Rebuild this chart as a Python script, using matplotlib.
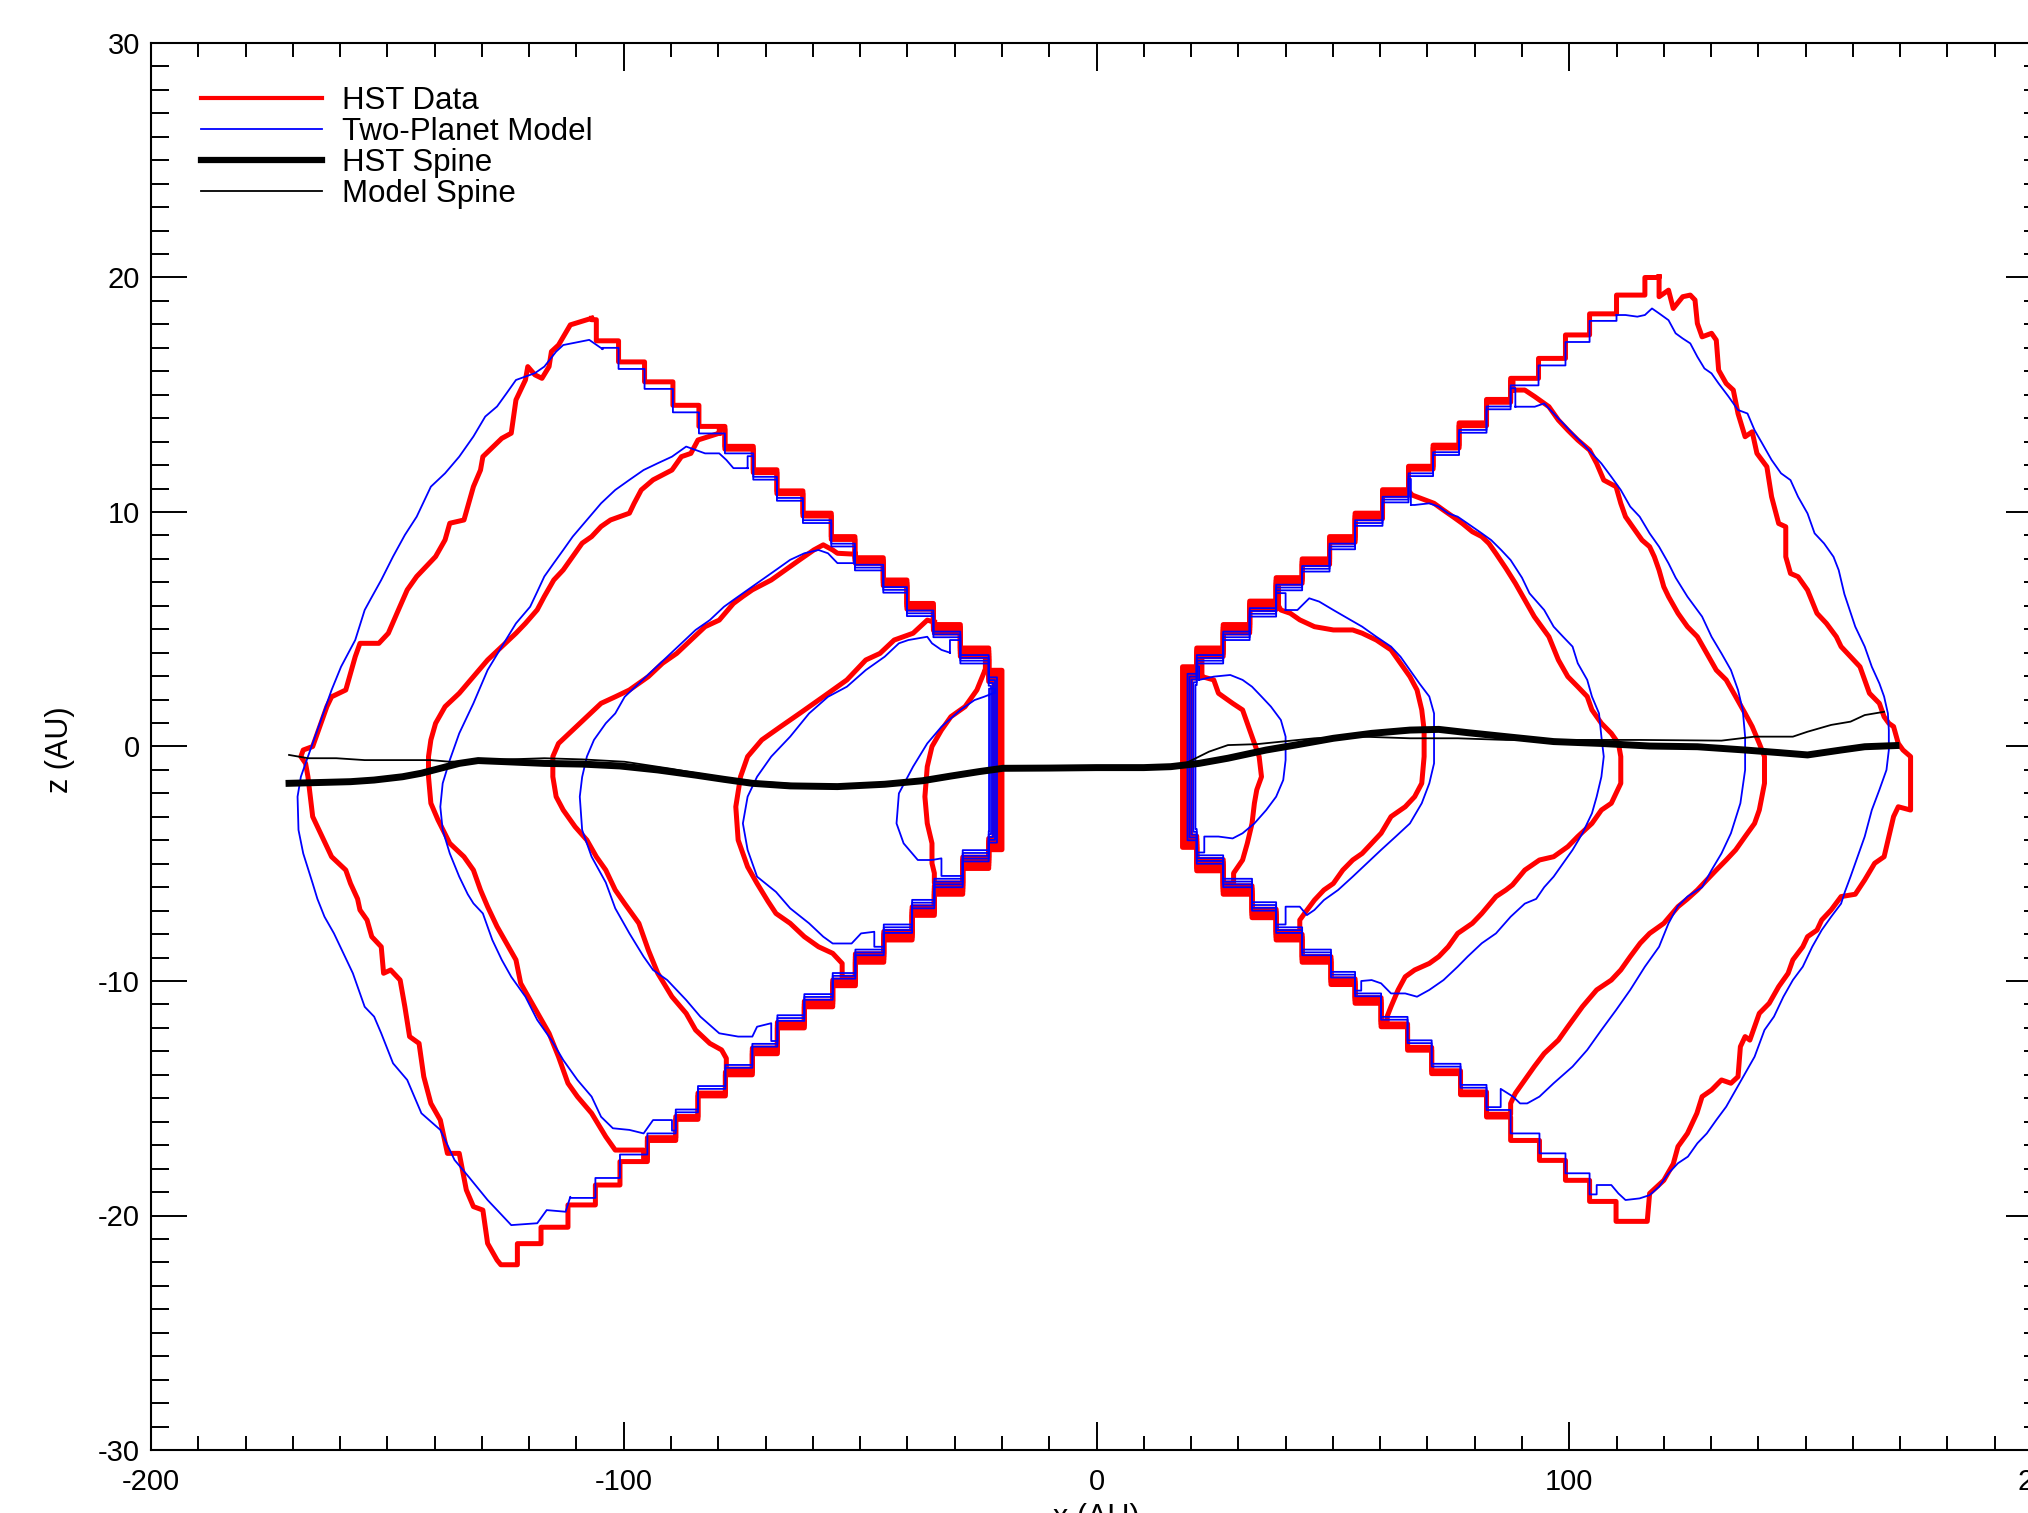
import numpy as np
import matplotlib
matplotlib.use("Agg")
import matplotlib.pyplot as plt
from matplotlib.lines import Line2D

plt.rcParams['font.family'] = ['Liberation Sans', 'DejaVu Sans']
plt.rcParams['axes.unicode_minus'] = False

# ---------------- data (AU) ----------------
# mask-boundary staircases: step start x and level z (level i spans x[i]..x[i+1])
UL_X = [-108.0, -105.8, -101.1, -95.6, -89.6, -84.1, -78.6, -72.6, -67.6, -62.1, -56.1,
        -51.1, -45.1, -40.1, -34.5, -28.8, -22.8, -20.0]
UL_Z = [18.2, 17.3, 16.4, 15.55, 14.55, 13.65, 12.8, 11.8, 10.9, 9.95, 8.95, 8.05, 7.1,
        6.1, 5.2, 4.2, 3.25]
LL_X = [-126.0, -122.5, -117.5, -111.8, -106.0, -100.8, -95.0, -89.0, -84.3, -78.5, -72.8,
        -67.5, -61.8, -55.8, -51.0, -45.0, -39.0, -34.3, -28.3, -22.8, -20.0]
LL_Z = [-22.1, -21.2, -20.5, -19.55, -18.7, -17.7, -16.8, -15.9, -14.9, -14.0, -13.1, -12.0,
        -11.1, -10.2, -9.2, -8.25, -7.2, -6.3, -5.2, -4.4]
UR_X = [18.2, 21.2, 26.8, 32.4, 38.0, 43.5, 49.3, 54.7, 60.5, 66.0, 71.2, 76.7, 82.5, 87.6,
        93.5, 99.2, 104.3, 110.0, 116.0, 119.0]
UR_Z = [3.4, 4.2, 5.2, 6.2, 7.2, 8.0, 8.95, 9.95, 10.95, 11.95, 12.85, 13.8, 14.8, 15.7,
        16.55, 17.55, 18.45, 19.25, 20.0]
LR_X = [18.2, 21.2, 26.8, 32.9, 38.0, 43.5, 49.6, 54.7, 60.2, 65.8, 70.9, 77.0, 82.5, 87.6,
        93.7, 99.2, 104.3, 109.9, 116.5]
LR_Z = [-4.3, -5.3, -6.3, -7.3, -8.25, -9.2, -10.15, -10.95, -11.95, -12.95, -13.95, -14.85,
        -15.8, -16.8, -17.65, -18.5, -19.4, -20.25]

# free (outer) parts of the contours, listed top -> bottom
HST_LEFT_1 = [(-106.8, 18.26), (-111.3, 17.98), (-113.8, 17.12), (-115.3, 16.84), (-115.8, 16.2),
    (-117.3, 15.7), (-118.8, 15.85), (-120.3, 16.2), (-120.8, 15.63), (-122.8, 14.78), (-123.3, 14.07),
    (-123.8, 13.36), (-125.8, 13.14), (-129.8, 12.36), (-130.3, 11.79), (-131.8, 11.08), (-132.8, 10.37),
    (-133.8, 9.66), (-136.8, 9.52), (-137.8, 8.81), (-139.8, 8.10), (-143.8, 7.25), (-145.8, 6.68),
    (-147.5, 5.9), (-149.8, 4.83), (-151.8, 4.40), (-155.8, 4.40), (-156.8, 3.83), (-157.8, 3.12),
    (-158.8, 2.41), (-161.8, 2.12), (-162.8, 1.70), (-163.8, 1.13), (-164.8, 0.56), (-165.8, 0.0),
    (-167.8, -0.15), (-168.3, -0.43), (-167.3, -0.72), (-166.8, -1.29), (-166.3, -2.14), (-165.8, -2.99),
    (-163.8, -3.84), (-161.8, -4.70), (-158.8, -5.27), (-157.8, -5.84), (-156.3, -6.5), (-155.8, -6.97),
    (-154.3, -7.40), (-153.3, -8.11), (-151.3, -8.54), (-150.8, -9.67), (-149.3, -9.53), (-147.3, -9.96),
    (-146.3, -11.10), (-145.3, -12.37), (-143.3, -12.66), (-142.3, -14.08), (-140.8, -15.22),
    (-138.8, -15.93), (-137.3, -17.35), (-134.8, -17.35), (-133.3, -18.91), (-131.8, -19.62),
    (-129.8, -19.77), (-128.8, -21.19), (-126.8, -21.90), (-126.0, -22.1)]
MODEL_LEFT_1 = [(-104.5, 16.95), (-107.3, 17.34), (-110.8, 17.2), (-112.8, 17.12), (-114.3, 16.84),
    (-116.8, 16.2), (-118.8, 15.92), (-122.8, 15.63), (-124.8, 15.06), (-126.8, 14.5), (-129.3, 14.07),
    (-131.8, 13.22), (-134.8, 12.36), (-137.8, 11.65), (-140.8, 11.08), (-143.8, 9.8), (-146.3, 9.02),
    (-148.8, 8.1), (-151.3, 7.1), (-153.5, 6.3), (-154.8, 5.82), (-156.8, 4.54), (-159.8, 3.4),
    (-161.8, 2.41), (-163.8, 1.27), (-165.3, 0.42), (-166.8, -0.43), (-168.3, -1.29), (-169.0, -2.14),
    (-168.8, -3.56), (-167.8, -4.56), (-165.8, -5.84), (-164.8, -6.5), (-163.3, -7.26), (-161.3, -7.97),
    (-159.3, -8.82), (-157.3, -9.67), (-154.8, -11.1), (-152.8, -11.52), (-151.3, -12.23),
    (-148.8, -13.51), (-145.8, -14.22), (-142.8, -15.64), (-138.8, -16.35), (-135.8, -17.63),
    (-132.8, -18.35), (-128.8, -19.34), (-125.8, -19.98), (-123.8, -20.41), (-118.3, -20.33),
    (-116.3, -19.77), (-112.3, -19.84), (-111.3, -19.2)]
HST_LEFT_2 = [(-79.8, 13.36), (-84.3, 13.07), (-85.8, 12.5), (-87.8, 12.36), (-89.8, 11.79),
    (-93.8, 11.37), (-96.3, 10.94), (-97.8, 10.37), (-98.8, 9.95), (-102.8, 9.66), (-104.8, 9.38),
    (-106.8, 8.95), (-108.8, 8.67), (-110.8, 8.1), (-112.8, 7.53), (-114.8, 7.1), (-116.8, 6.4),
    (-118.3, 5.83), (-120.8, 5.25), (-122.8, 4.83), (-125.8, 4.26), (-128.8, 3.69), (-131.8, 2.98),
    (-134.8, 2.27), (-137.8, 1.7), (-139.8, 0.99), (-140.8, 0.28), (-141.3, -0.43), (-141.3, -1.29),
    (-140.8, -2.42), (-139.3, -3.13), (-136.8, -4.13), (-133.8, -4.7), (-131.8, -5.27), (-130.3, -6.12),
    (-128.8, -6.83), (-126.8, -7.68), (-124.8, -8.39), (-122.8, -9.1), (-121.8, -10.1), (-119.8, -10.81),
    (-117.8, -11.52), (-115.8, -12.23), (-113.8, -13.23), (-111.8, -14.36), (-109.8, -14.93),
    (-106.8, -15.64), (-103.8, -16.64), (-101.8, -17.21), (-95.8, -17.21)]
MODEL_LEFT_2 = [(-73.8, 11.87), (-76.8, 11.87), (-78.3, 12.22), (-79.8, 12.5), (-82.8, 12.5),
    (-86.8, 12.79), (-89.8, 12.36), (-92.8, 12.08), (-95.8, 11.79), (-98.8, 11.37), (-101.8, 10.94),
    (-104.8, 10.37), (-107.8, 9.66), (-110.8, 8.95), (-112.8, 8.38), (-114.8, 7.82), (-116.8, 7.25),
    (-118.3, 6.6), (-119.8, 5.96), (-122.8, 5.25), (-125.8, 4.26), (-128.8, 3.26), (-131.8, 1.84),
    (-134.8, 0.56), (-136.8, -0.58), (-138.3, -1.57), (-138.8, -2.57), (-138.3, -3.56), (-136.8, -4.56),
    (-134.8, -5.55), (-133.0, -6.3), (-131.8, -6.69), (-129.8, -7.12), (-127.8, -8.25), (-125.8, -9.1),
    (-123.8, -9.82), (-120.8, -10.67), (-118.3, -11.66), (-115.3, -12.52), (-112.8, -13.37),
    (-109.8, -14.22), (-106.8, -14.93), (-104.8, -15.79), (-102.3, -16.28), (-98.8, -16.35),
    (-95.8, -16.5), (-93.8, -15.93), (-89.8, -15.93)]
HST_LEFT_3 = [(-51.0, 8.2), (-54.8, 8.24), (-55.8, 8.38), (-57.8, 8.6), (-59.8, 8.38), (-62.8, 7.96),
    (-65.8, 7.53), (-68.8, 7.1), (-72.8, 6.68), (-74.8, 6.4), (-76.8, 6.1), (-79.8, 5.39), (-82.8, 5.11),
    (-85.8, 4.54), (-88.8, 3.97), (-91.8, 3.55), (-94.8, 2.98), (-98.8, 2.41), (-101.8, 2.12),
    (-104.8, 1.84), (-107.8, 1.27), (-110.8, 0.7), (-113.8, 0.13), (-115.0, -0.43), (-115.0, -1.29),
    (-114.3, -2.14), (-112.8, -2.71), (-110.3, -3.42), (-107.8, -3.99), (-105.8, -4.7), (-103.8, -5.27),
    (-101.8, -6.12), (-99.8, -6.7), (-96.8, -7.54), (-94.8, -8.68), (-92.8, -9.67), (-89.8, -10.67),
    (-86.8, -11.38), (-84.8, -12.09), (-81.8, -12.66), (-79.3, -12.94), (-78.3, -13.3)]
MODEL_LEFT_3 = [(-51.3, 7.82), (-54.8, 7.82), (-56.8, 8.24), (-58.8, 8.38), (-61.8, 8.24),
    (-64.8, 7.96), (-67.8, 7.53), (-72.8, 6.82), (-76.8, 6.25), (-78.8, 5.96), (-81.8, 5.39),
    (-84.8, 4.97), (-87.8, 4.4), (-90.8, 3.83), (-93.8, 3.26), (-96.8, 2.69), (-99.8, 2.12),
    (-101.8, 1.41), (-103.8, 0.99), (-106.3, 0.28), (-107.8, -0.43), (-108.8, -1.3), (-109.3, -2.14),
    (-108.8, -3.56), (-106.8, -4.7), (-103.8, -5.8), (-101.8, -6.9), (-98.8, -7.97), (-95.8, -8.96),
    (-93.8, -9.53), (-90.8, -9.96), (-86.8, -10.81), (-83.8, -11.52), (-79.8, -12.23), (-75.8, -12.37),
    (-72.8, -12.37), (-71.8, -11.95), (-68.8, -11.8)]
HST_LEFT_4 = [(-34.3, 5.3), (-35.8, 5.39), (-38.8, 4.83), (-42.8, 4.54), (-45.8, 3.97), (-48.8, 3.69),
    (-52.8, 2.84), (-57.8, 2.12), (-62.8, 1.41), (-66.8, 0.85), (-70.8, 0.28), (-73.8, -0.43),
    (-75.3, -1.29), (-76.3, -2.57), (-75.8, -3.99), (-73.8, -5.13), (-71.8, -5.84), (-69.5, -6.6),
    (-67.8, -7.12), (-64.8, -7.54), (-61.8, -8.11), (-58.8, -8.54), (-55.8, -8.82), (-53.8, -9.25)]
MODEL_LEFT_4 = [(-31.0, 4.0), (-32.8, 4.12), (-34.8, 4.4), (-35.8, 4.68), (-39.8, 4.54), (-41.8, 4.4),
    (-44.8, 3.83), (-48.8, 3.26), (-52.8, 2.55), (-56.8, 2.12), (-60.8, 1.41), (-64.8, 0.42),
    (-68.8, -0.43), (-71.8, -1.29), (-73.8, -2.14), (-74.8, -3.28), (-73.8, -4.41), (-71.8, -5.55),
    (-67.8, -6.2), (-64.8, -6.9), (-60.8, -7.54), (-57.8, -8.11), (-55.8, -8.4), (-51.8, -8.4),
    (-49.8, -7.97), (-47.0, -7.9)]
HST_LEFT_5 = [(-23.5, 3.3), (-25.3, 2.41), (-27.8, 1.7), (-30.8, 1.27), (-32.8, 0.7), (-34.8, 0.0),
    (-35.8, -0.86), (-36.3, -2.14), (-35.8, -3.28), (-34.8, -4.13), (-34.8, -4.98), (-34.3, -5.4)]
MODEL_LEFT_5 = [(-21.5, 2.3), (-23.8, 2.12), (-25.8, 1.98), (-28.8, 1.56), (-32.8, 0.84),
    (-35.8, 0.13), (-38.8, -0.86), (-41.8, -2.0), (-42.3, -3.28), (-40.8, -4.13), (-37.8, -4.84),
    (-34.8, -4.84), (-32.8, -4.77)]

HST_RIGHT_1 = [(119.0, 20.03), (119.0, 19.18), (121.0, 19.46), (122.0, 18.68), (124.0, 19.18),
    (125.6, 19.25), (126.6, 19.04), (127.1, 18.04), (128.1, 17.47), (130.1, 17.62), (131.1, 17.33),
    (131.6, 16.05), (133.2, 15.48), (134.7, 15.2), (135.7, 14.2), (137.2, 13.21), (138.7, 13.42),
    (139.7, 12.5), (141.8, 11.93), (142.8, 10.65), (144.3, 9.51), (145.8, 9.37), (145.8, 8.09),
    (146.8, 7.38), (148.4, 7.24), (150.4, 6.67), (152.4, 5.68), (154.4, 5.25), (156.5, 4.68),
    (157.5, 4.26), (159.5, 3.83), (161.5, 3.4), (162.5, 2.84), (163.5, 2.27), (165.6, 1.84),
    (166.6, 1.27), (167.6, 0.99), (168.6, 0.85), (169.6, 0.13), (170.6, -0.15), (172.2, -0.43),
    (172.2, -2.71), (169.6, -2.57), (168.6, -2.99), (167.6, -3.84), (166.6, -4.7), (164.6, -4.98),
    (162.5, -5.69), (160.5, -6.3), (157.5, -6.4), (155.4, -6.97), (153.4, -7.4), (152.4, -7.83),
    (150.4, -8.11), (149.4, -8.54), (147.3, -9.1), (146.3, -9.67), (144.3, -10.24), (142.3, -10.95),
    (140.2, -11.38), (138.2, -12.52), (137.2, -12.37), (136.2, -12.8), (135.7, -14.08), (134.2, -14.36),
    (132.2, -14.22), (130.1, -14.65), (128.1, -14.93), (127.0, -15.64), (125.0, -16.5), (123.0, -17.06),
    (122.0, -17.8), (120.0, -18.5), (117.0, -19.06), (116.5, -20.2)]
MODEL_RIGHT_1 = [(110.0, 18.4), (111.9, 18.4), (114.4, 18.33), (116.0, 18.4), (117.5, 18.68),
    (119.0, 18.47), (121.0, 18.18), (122.5, 17.62), (124.0, 17.4), (125.6, 17.19), (127.1, 16.62),
    (128.6, 16.12), (130.1, 15.91), (131.6, 15.48), (133.7, 14.92), (135.7, 14.35), (137.7, 14.2),
    (139.2, 13.49), (140.8, 12.93), (142.8, 12.22), (144.8, 11.65), (146.8, 11.36), (148.4, 10.65),
    (150.4, 9.94), (151.9, 9.09), (153.9, 8.66), (155.9, 8.09), (157.0, 7.52), (158.2, 6.5),
    (160.5, 5.11), (162.5, 4.26), (164.0, 3.4), (165.6, 2.69), (166.6, 2.13), (167.4, 1.41),
    (167.6, 0.7), (167.6, -0.15), (167.1, -1.0), (165.6, -1.85), (164.0, -2.71), (162.5, -3.84),
    (161.0, -4.7), (159.5, -5.55), (158.3, -6.2), (157.5, -6.7), (155.4, -7.26), (153.4, -7.83),
    (151.4, -8.54), (149.4, -9.39), (147.3, -9.96), (145.3, -10.67), (143.3, -11.52), (141.3, -12.09),
    (139.2, -13.23), (137.2, -13.94), (135.2, -14.65), (133.2, -15.36), (131.1, -15.93), (129.1, -16.5),
    (127.1, -16.92), (125.1, -17.49), (123.0, -17.77), (121.0, -18.2), (119.0, -18.77), (117.0, -19.13),
    (114.9, -19.27), (111.9, -19.34), (110.4, -19.06), (108.9, -18.7), (105.8, -18.7)]
HST_RIGHT_2 = [(88.1, 15.2), (90.6, 15.2), (92.7, 14.92), (95.7, 14.49), (97.7, 13.92), (99.7, 13.49),
    (101.8, 13.07), (104.3, 12.64), (105.8, 12.07), (107.3, 11.36), (109.9, 11.08), (110.9, 10.37),
    (111.9, 9.8), (113.4, 9.37), (115.4, 8.8), (117.0, 8.52), (118.0, 8.09), (119.0, 7.52),
    (120.0, 6.81), (121.0, 6.39), (123.0, 5.68), (125.0, 5.11), (127.1, 4.68), (129.1, 3.97),
    (131.1, 3.26), (133.2, 2.84), (135.2, 2.13), (137.2, 1.41), (138.7, 0.85), (140.2, 0.13),
    (141.3, -0.43), (141.3, -1.57), (140.2, -2.71), (139.2, -3.28), (137.2, -3.84), (135.2, -4.41),
    (133.2, -4.84), (131.1, -5.27), (129.1, -5.69), (127.1, -6.12), (125.0, -6.5), (123.0, -6.83),
    (120.0, -7.54), (117.0, -7.97), (115.0, -8.39), (112.9, -8.96), (110.9, -9.53), (108.9, -9.96),
    (105.8, -10.38), (102.8, -11.09), (99.7, -11.95), (97.7, -12.52), (94.7, -13.09), (92.6, -13.65),
    (90.6, -14.22), (88.6, -14.79), (87.6, -15.22)]
MODEL_RIGHT_2 = [(88.6, 14.49), (92.7, 14.49), (94.7, 14.63), (96.7, 14.2), (98.7, 13.78),
    (100.7, 13.35), (102.8, 12.93), (104.8, 12.5), (106.8, 12.07), (108.9, 11.5), (110.9, 10.94),
    (112.9, 10.23), (114.9, 9.8), (117.0, 9.09), (119.0, 8.52), (121.0, 7.81), (122.5, 7.2),
    (125.0, 6.39), (128.1, 5.54), (130.1, 4.68), (132.2, 3.97), (134.2, 3.26), (135.7, 2.41),
    (136.7, 1.56), (137.2, 0.42), (137.2, -1.0), (136.2, -2.42), (134.2, -3.7), (132.2, -4.56),
    (130.1, -5.27), (128.1, -6.0), (125.0, -6.4), (123.0, -6.8), (121.0, -7.54), (119.0, -8.54),
    (116.0, -9.39), (112.9, -10.38), (109.9, -11.24), (106.8, -12.09), (103.8, -12.94), (100.7, -13.65),
    (96.7, -14.36), (93.7, -14.93), (91.1, -15.22), (89.6, -15.22), (88.1, -14.93), (85.5, -14.6)]
HST_RIGHT_3 = [(66.0, 10.9), (66.8, 10.72), (71.4, 10.37), (73.4, 10.08), (75.4, 9.8), (77.4, 9.51),
    (79.5, 9.16), (81.5, 8.95), (83.0, 8.66), (84.5, 8.23), (86.6, 7.6), (88.6, 6.96), (90.6, 6.25),
    (92.6, 5.54), (95.7, 4.68), (97.7, 3.69), (99.7, 2.98), (101.8, 2.55), (103.8, 2.13), (104.8, 1.56),
    (106.8, 0.99), (108.9, 0.56), (110.4, 0.13), (110.9, -0.43), (110.9, -1.57), (108.9, -2.42),
    (106.8, -2.71), (104.8, -3.28), (101.8, -3.84), (99.7, -4.27), (96.7, -4.7), (93.7, -4.84),
    (90.6, -5.27), (88.0, -5.9), (86.6, -6.12), (84.5, -6.4), (81.5, -7.12), (79.5, -7.54),
    (76.4, -7.97), (74.4, -8.54), (72.4, -8.96), (70.4, -9.25), (67.3, -9.53), (65.3, -9.82),
    (63.8, -10.38), (62.3, -11.09), (61.5, -11.5)]
MODEL_RIGHT_3 = [(66.5, 10.3), (67.3, 10.3), (70.4, 10.37), (72.4, 10.23), (74.4, 9.94), (76.4, 9.8),
    (78.5, 9.51), (81.5, 9.09), (83.5, 8.8), (85.6, 8.38), (87.6, 7.95), (90.0, 7.2), (91.6, 6.53),
    (94.7, 5.82), (96.7, 5.11), (98.7, 4.68), (100.7, 4.26), (101.8, 3.55), (103.8, 2.84), (104.8, 2.13),
    (106.3, 1.41), (106.8, 0.42), (107.3, -0.43), (106.8, -1.29), (105.8, -2.14), (104.8, -2.85),
    (102.8, -3.7), (100.7, -4.41), (98.7, -4.98), (96.7, -5.55), (94.7, -6.0), (93.0, -6.5),
    (90.6, -6.7), (87.6, -7.26), (84.5, -7.97), (81.5, -8.39), (78.5, -8.96), (76.4, -9.39),
    (73.4, -9.96), (70.4, -10.38), (67.8, -10.67), (65.3, -10.53), (62.3, -10.53), (60.2, -10.1),
    (58.2, -9.96), (56.0, -10.0)]
HST_RIGHT_4 = [(38.5, 6.0), (39.0, 5.82), (41.0, 5.68), (43.0, 5.4), (46.1, 5.11), (50.1, 4.97),
    (54.2, 4.97), (56.2, 4.83), (59.2, 4.54), (62.3, 4.12), (64.3, 3.55), (66.3, 2.98), (67.8, 2.41),
    (68.8, 1.56), (69.3, 0.7), (69.3, -0.43), (68.8, -1.57), (67.3, -2.14), (65.3, -2.57), (62.3, -2.99),
    (60.2, -3.7), (58.2, -4.13), (56.2, -4.56), (54.2, -4.84), (52.1, -5.27), (50.1, -5.84),
    (48.1, -6.12), (46.1, -6.55), (44.0, -7.12), (43.0, -7.4)]
MODEL_RIGHT_4 = [(40.0, 5.82), (42.5, 5.82), (45.0, 6.32), (47.1, 6.18), (50.1, 5.82), (53.1, 5.47),
    (56.2, 5.11), (59.2, 4.68), (62.3, 4.26), (64.3, 3.83), (66.3, 3.26), (68.3, 2.69), (70.4, 2.13),
    (71.4, 1.41), (71.4, 0.42), (71.4, -0.72), (70.4, -1.57), (68.8, -2.42), (66.3, -3.28),
    (63.3, -3.84), (60.2, -4.41), (57.2, -4.98), (54.2, -5.55), (51.1, -6.12), (48.1, -6.55),
    (46.1, -6.97), (44.5, -7.19), (43.0, -6.83), (40.0, -6.83)]
HST_RIGHT_5 = [(22.3, 2.98), (24.8, 2.84), (25.8, 2.27), (28.8, 1.84), (30.9, 1.56), (31.9, 0.99),
    (32.9, 0.42), (34.4, -0.43), (34.9, -1.29), (33.9, -1.85), (33.4, -2.42), (32.9, -3.28),
    (31.9, -4.13), (30.9, -4.84), (29.0, -5.4)]
MODEL_RIGHT_5 = [(21.7, 2.84), (24.8, 2.98), (28.3, 3.05), (30.9, 2.84), (32.9, 2.55), (34.9, 2.13),
    (36.9, 1.7), (39.0, 1.13), (40.0, 0.42), (40.0, -0.58), (39.5, -1.43), (38.0, -2.14), (35.9, -2.71),
    (33.4, -3.28), (30.9, -3.7), (28.8, -3.92), (25.8, -3.84), (22.8, -3.84)]

# spines (mid-plane ridge)
HST_SPINE_X = [-170.8, -157.8, -152.8, -146.8, -142.8, -138.8, -134.8, -130.8, -124.8, -116.8, -108.8,
    -100.8, -92.8, -84.8, -78.8, -72.8, -64.8, -54.8, -44.8, -36.8, -30.8, -24.8, -19.8, -10.0, 0.0,
    10.0, 15.7, 21.7, 27.8, 35.9, 42.0, 50.1, 58.2, 66.3, 72.4, 78.5, 86.6, 96.7, 106.8, 117.0, 127.1,
    137.2, 144.3, 150.4, 157.5, 162.5, 169.1]
HST_SPINE_Z = [-1.57, -1.5, -1.43, -1.29, -1.14, -0.93, -0.72, -0.6, -0.65, -0.72, -0.75, -0.83, -1.0,
    -1.22, -1.4, -1.57, -1.68, -1.71, -1.61, -1.46, -1.26, -1.07, -0.93, -0.92, -0.9, -0.9, -0.86, -0.72,
    -0.5, -0.15, 0.06, 0.35, 0.56, 0.7, 0.73, 0.59, 0.42, 0.21, 0.13, 0.02, -0.01, -0.15, -0.26, -0.36,
    -0.15, -0.01, 0.04]
MODEL_SPINE_X = [-170.8, -166.8, -160.8, -154.8, -147.8, -140.8, -136.8, -128.8, -116.8, -108.8, -99.8,
    -90.0, -80.0, -72.0, -60.0, -50.0, -40.0, -30.0, -20.0, -10.0, 0.0, 10.0, 18.0, 21.0, 23.8, 27.8,
    33.9, 46.1, 56.2, 66.3, 76.4, 86.6, 100.0, 115.0, 132.2, 139.2, 147.3, 150.4, 155.4, 159.5, 162.5,
    166.6]
MODEL_SPINE_Z = [-0.36, -0.5, -0.5, -0.58, -0.58, -0.58, -0.65, -0.58, -0.5, -0.55, -0.65, -0.95, -1.3,
    -1.5, -1.65, -1.65, -1.55, -1.25, -0.93, -0.92, -0.9, -0.9, -0.8, -0.5, -0.22, 0.06, 0.1, 0.35, 0.42,
    0.35, 0.35, 0.28, 0.28, 0.28, 0.25, 0.42, 0.42, 0.63, 0.92, 1.06, 1.34, 1.48]

LEGEND_LABELS = ["HST Data", "Two-Planet Model", "HST Spine", "Model Spine"]
X_TICKS = [-200, -100, 0, 100, 200]
Z_TICKS = [-30, -20, -10, 0, 10, 20, 30]

HST_LEFT = [HST_LEFT_1, HST_LEFT_2, HST_LEFT_3, HST_LEFT_4, HST_LEFT_5]
MODEL_LEFT = [MODEL_LEFT_1, MODEL_LEFT_2, MODEL_LEFT_3, MODEL_LEFT_4, MODEL_LEFT_5]
HST_RIGHT = [HST_RIGHT_1, HST_RIGHT_2, HST_RIGHT_3, HST_RIGHT_4, HST_RIGHT_5]
MODEL_RIGHT = [MODEL_RIGHT_1, MODEL_RIGHT_2, MODEL_RIGHT_3, MODEL_RIGHT_4, MODEL_RIGHT_5]


# ---------------- helpers ----------------
def level_at(xs, zs, x):
    i = int(np.searchsorted(xs, x, side='right')) - 1
    i = min(max(i, 0), len(zs) - 1)
    return zs[i]


def stair_pts(xs, zs, xa, xb, dz):
    pts = [(xa, level_at(xs, zs, xa) + dz)]
    for i in range(1, len(xs) - 1):
        if xa < xs[i] < xb:
            pts.append((xs[i], zs[i - 1] + dz))
            pts.append((xs[i], zs[i] + dz))
    pts.append((xb, level_at(xs, zs, xb - 1e-9) + dz))
    return pts


def left_path(free, d):
    ex = UL_X[-1] - 3.5 * d
    pts = list(free)
    pts += stair_pts(LL_X, LL_Z, free[-1][0], ex, +d)
    pts += stair_pts(UL_X, UL_Z, free[0][0], ex, -d)[::-1]
    pts.append(free[0])
    return np.array(pts)


def right_path(free, d):
    ex = UR_X[0] + 3.5 * d
    pts = list(free)
    pts += stair_pts(LR_X, LR_Z, ex, free[-1][0], +d)[::-1]
    pts += stair_pts(UR_X, UR_Z, ex, free[0][0], -d)
    pts.append(free[0])
    return np.array(pts)


# ---------------- figure ----------------
W, H = 2028, 1513
fig = plt.figure(figsize=(W / 100, H / 100), dpi=100)
ax = fig.add_axes([151 / W, 1 - 1450 / H, (2042 - 151) / W, (1450 - 43) / H])

RED_LW, BLUE_LW = 3.6, 1.3
for k, free in enumerate(HST_LEFT):
    p = left_path(free, 0.12 * k)
    ax.plot(p[:, 0], p[:, 1], color='#ff0000', lw=RED_LW, zorder=2)
for k, free in enumerate(HST_RIGHT):
    p = right_path(free, 0.12 * k)
    ax.plot(p[:, 0], p[:, 1], color='#ff0000', lw=RED_LW, zorder=2)
for k, free in enumerate(MODEL_LEFT):
    p = left_path(free, 0.3 + 0.12 * k)
    ax.plot(p[:, 0], p[:, 1], color='#0000ff', lw=BLUE_LW, zorder=3)
for k, free in enumerate(MODEL_RIGHT):
    p = right_path(free, 0.3 + 0.12 * k)
    ax.plot(p[:, 0], p[:, 1], color='#0000ff', lw=BLUE_LW, zorder=3)

ax.plot(HST_SPINE_X, HST_SPINE_Z, color='black', lw=5.0, zorder=4)
ax.plot(MODEL_SPINE_X, MODEL_SPINE_Z, color='black', lw=1.3, zorder=5)

ax.set_xlim(-200, 200)
ax.set_ylim(-30, 30)
ax.set_xticks(X_TICKS)
ax.set_yticks(Z_TICKS)
ax.set_xticks(np.arange(-200, 201, 10), minor=True)
ax.set_yticks(np.arange(-30, 31, 1), minor=True)
ax.tick_params(which='both', direction='in', top=True, right=True, width=1.4, labelsize=21)
ax.tick_params(axis='x', which='major', length=20, pad=13)
ax.tick_params(axis='x', which='minor', length=10)
ax.tick_params(axis='y', which='major', length=26, pad=8)
ax.tick_params(axis='y', which='minor', length=13)
for s in ax.spines.values():
    s.set_linewidth(1.5)

ax.set_xlabel('x (AU)', fontsize=22)
ax.xaxis.set_label_coords(0.4997, -0.0377)
ax.set_ylabel('z (AU)', fontsize=22)
ax.yaxis.set_label_coords(-0.040, 0.4975)

handles = [Line2D([], [], color='#ff0000', lw=3.0),
           Line2D([], [], color='#0000ff', lw=1.3),
           Line2D([], [], color='black', lw=4.5),
           Line2D([], [], color='black', lw=1.3)]
ax.legend(handles, LEGEND_LABELS, loc='upper left', bbox_to_anchor=(0.0263, 0.9697),
          frameon=False, borderpad=0, borderaxespad=0, handlelength=3.87, handletextpad=0.64,
          labelspacing=0.035, fontsize=22.5)

fig.savefig('out.png', dpi=100)
